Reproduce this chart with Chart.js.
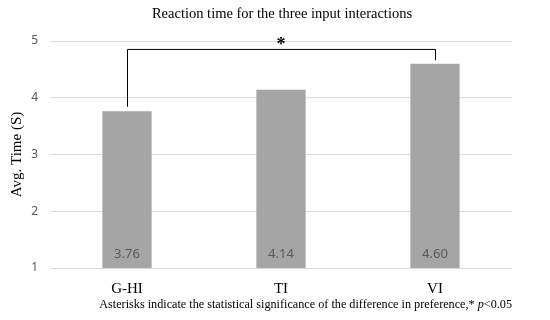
<!DOCTYPE html>
<html lang="en">
<head>
<meta charset="UTF-8">
<title>Reaction time</title>
<script src="https://cdn.jsdelivr.net/npm/chart.js"></script>
<style>
  html, body { margin: 0; padding: 0; background: #fff; }
  #wrap { width: 550px; height: 320px; }
</style>
</head>
<body>
<div id="wrap"><canvas id="myChart" width="550" height="320"></canvas></div>
<script>
    const categories = ['G-HI', 'TI', 'VI'];
    const avgTimes = [3.76, 4.14, 4.60];
    const valueLabels = ['3.76', '4.14', '4.60'];
    const yTicks = [1, 2, 3, 4, 5];

    const serif = '"Liberation Serif", "Times New Roman", serif';
    const sans = '"Noto Sans", "DejaVu Sans", sans-serif';

    // title, value labels, significance bracket, footnote
    const extras = {
        id: 'extras',
        afterDraw(chart) {
            const c = chart.ctx;
            const x = chart.scales.x, y = chart.scales.y;
            c.save();

            c.fillStyle = '#000';
            c.font = '14.5px ' + serif;
            c.textAlign = 'center';
            c.textBaseline = 'middle';
            c.fillText('Reaction time for the three input interactions', 282, 14);

            c.fillStyle = '#595959';
            c.font = '13px ' + sans;
            avgTimes.forEach((v, i) => {
                c.fillText(valueLabels[i], x.getPixelForValue(i), y.getPixelForValue(1) - 14);
            });

            const x0 = x.getPixelForValue(0), x2 = x.getPixelForValue(2);
            const top = y.getPixelForValue(4.86);
            c.strokeStyle = '#000';
            c.lineWidth = 1;
            c.beginPath();
            c.moveTo(x0 + 0.5, y.getPixelForValue(3.84));
            c.lineTo(x0 + 0.5, top + 0.5);
            c.lineTo(x2 + 0.5, top + 0.5);
            c.lineTo(x2 + 0.5, y.getPixelForValue(4.66));
            c.stroke();

            c.fillStyle = '#000';
            c.font = 'bold 18px ' + serif;
            c.fillText('*', x.getPixelForValue(1), top - 4);

            c.textAlign = 'right';
            c.font = 'italic 12.2px ' + serif;
            const pw = c.measureText('p').width;
            c.font = '12.2px ' + serif;
            const tail = '<0.05';
            const tw = c.measureText(tail).width;
            const right = 512, fy = 305;
            c.fillText(tail, right, fy);
            c.font = 'italic 12.2px ' + serif;
            c.fillText('p', right - tw, fy);
            c.font = '12.2px ' + serif;
            c.fillText('Asterisks indicate the statistical significance of the difference in preference,* ', right - tw - pw, fy);
            c.restore();
        }
    };

    const ctx = document.getElementById('myChart').getContext('2d');
    new Chart(ctx, {
        type: 'bar',
        data: {
            labels: categories,
            datasets: [{
                data: avgTimes,
                backgroundColor: '#a5a5a5',
                categoryPercentage: 1,
                barPercentage: 0.32,
            }]
        },
        options: {
            responsive: false,
            animation: false,
            layout: { padding: { top: 41, right: 38, bottom: 0, left: 0 } },
            plugins: { legend: { display: false }, tooltip: { enabled: false } },
            scales: {
                x: {
                    afterFit(scale) { scale.height = 52; },
                    grid: { display: false },
                    border: { display: false },
                    ticks: { color: '#000', font: { family: serif, size: 15 }, padding: 4 }
                },
                y: {
                    min: 1,
                    max: 5,
                    afterFit(scale) { scale.width = 50; },
                    afterBuildTicks(scale) { scale.ticks = yTicks.map(v => ({ value: v })); },
                    border: { display: false },
                    grid: { color: '#d9d9d9', drawTicks: false },
                    ticks: { color: '#595959', font: { family: sans, size: 12 }, padding: 12 },
                    title: {
                        display: true,
                        text: 'Avg. Time (S)',
                        color: '#000',
                        font: { family: serif, size: 15 },
                        padding: { top: 8, bottom: 0 }
                    }
                }
            }
        },
        plugins: [extras]
    });
</script>
</body>
</html>
